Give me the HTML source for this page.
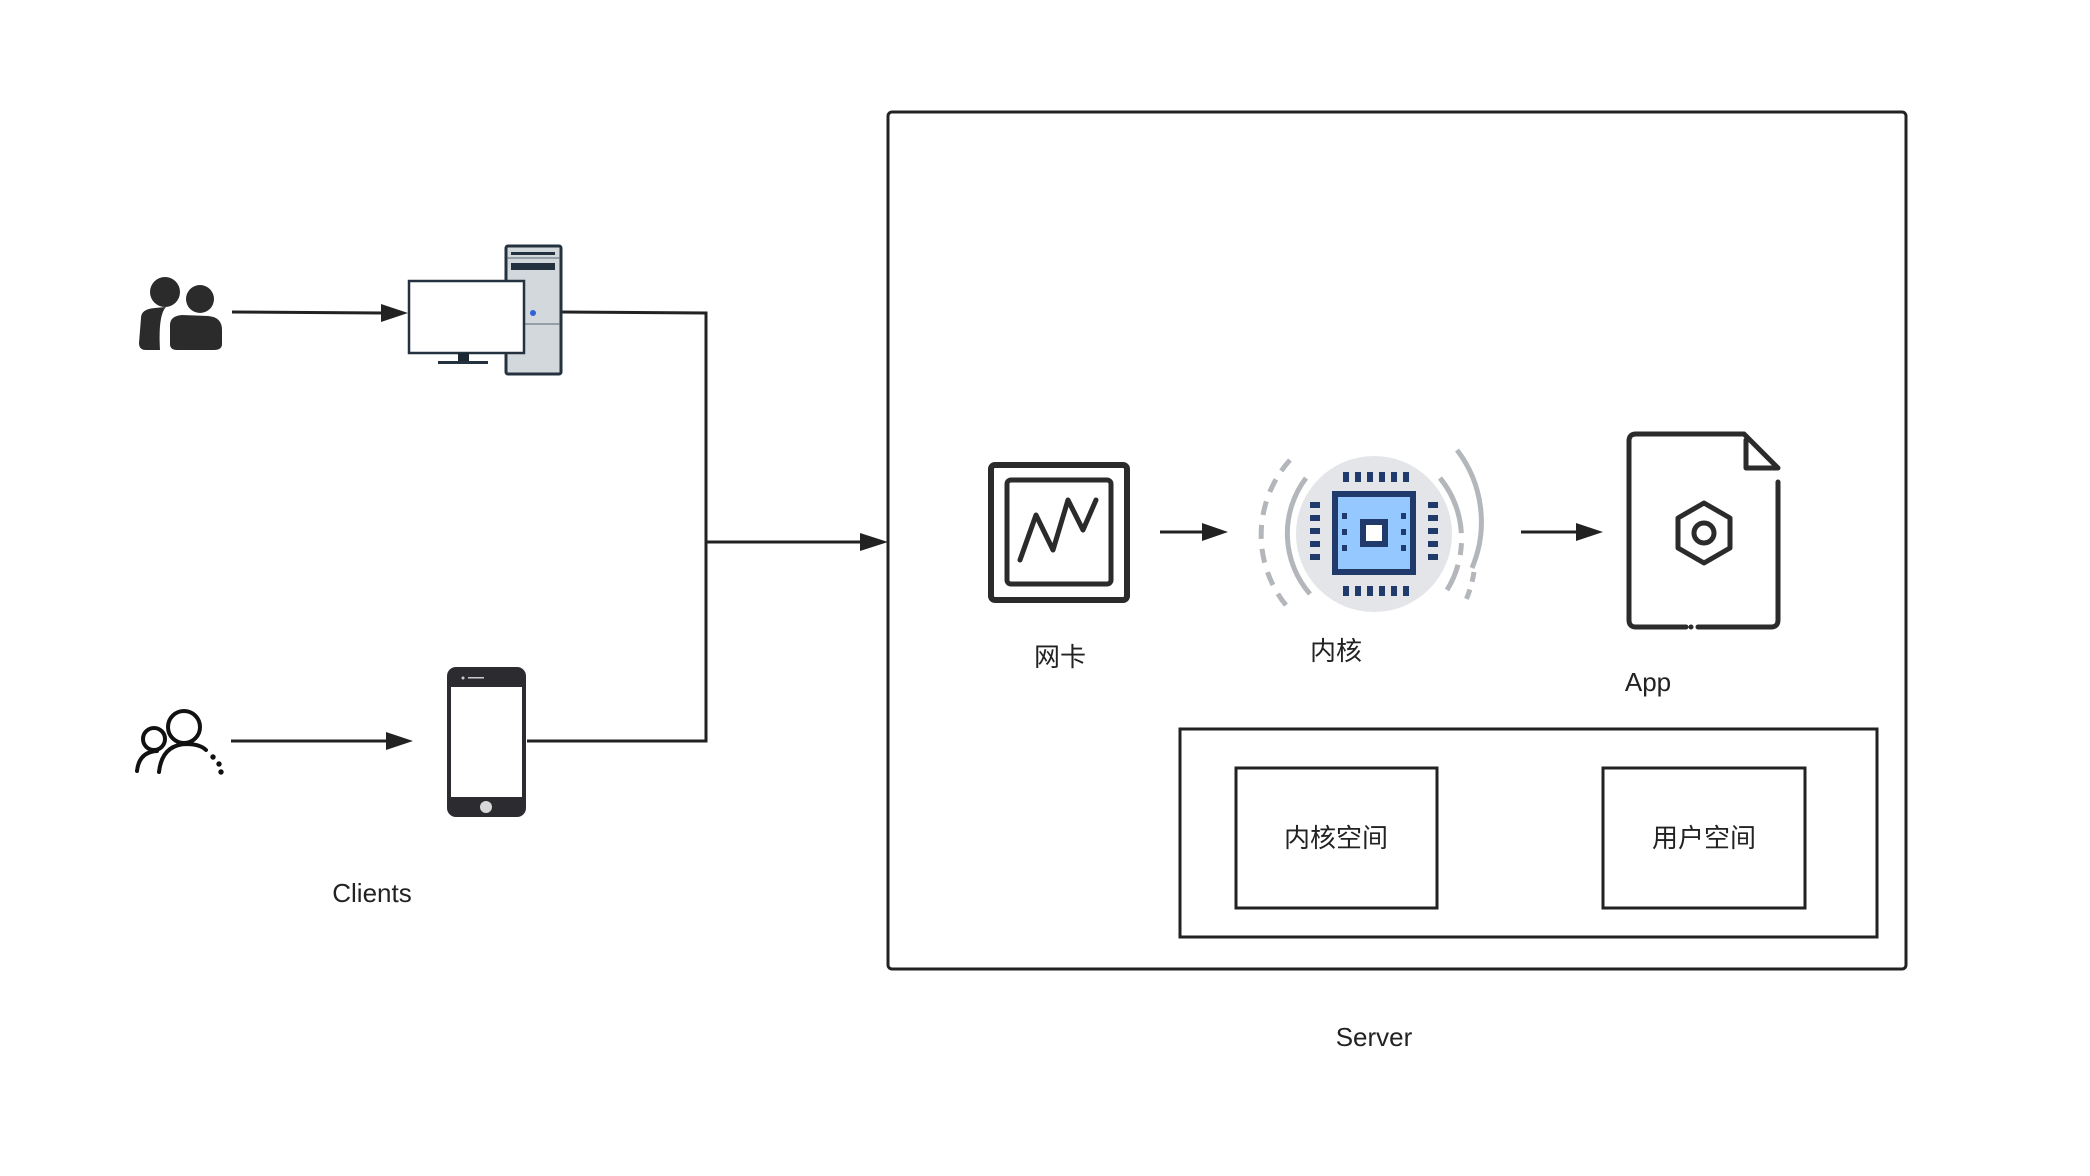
<!DOCTYPE html>
<html><head><meta charset="utf-8"><style>
html,body{margin:0;padding:0;background:#fff;}
svg{display:block;}
text{font-family:"Liberation Sans","Noto Sans CJK SC",sans-serif;fill:#222;}
</style></head><body>
<svg width="2090" height="1176" viewBox="0 0 2090 1176" xmlns="http://www.w3.org/2000/svg">
<g stroke="#222" stroke-width="3" fill="none">
<rect x="888" y="112" width="1018" height="857" rx="4"/>
<rect x="1180" y="729" width="697" height="208"/>
<rect x="1236" y="768" width="201" height="140"/>
<rect x="1603" y="768" width="202" height="140"/>
<line x1="232" y1="312" x2="385" y2="313"/>
<line x1="231" y1="741" x2="388" y2="741"/>
<polyline points="561,312 706,313 706,741 527,741"/>
<line x1="706" y1="542" x2="862" y2="542"/>
<line x1="1160" y1="532" x2="1204" y2="532"/>
<line x1="1521" y1="532" x2="1578" y2="532"/>
</g>
<g fill="#222">
<polygon points="408,313 381,304 381,322"/>
<polygon points="413,741 386,732 386,750"/>
<polygon points="888,542 860,533 860,551"/>
<polygon points="1228,532 1202,523 1202,541"/>
<polygon points="1603,532 1576,523 1576,541"/>
</g>
<g fill="#2b2b2b">
<circle cx="165" cy="292" r="15"/>
<circle cx="200" cy="299" r="14"/>
<path d="M141,318 Q141,309 155,308 L166,307 Q158,315 160,350 L146,350 Q139,350 139,343 Z"/>
<path d="M170,325 Q170,316 182,315 L208,316 Q222,317 222,330 L222,344 Q222,350 214,350 L177,350 Q170,350 170,344 Z"/>
</g>
<g stroke="#111" stroke-width="4" fill="none" stroke-linecap="round">
<circle cx="154" cy="739" r="11"/>
<circle cx="184" cy="727" r="16"/>
<path d="M137,771 Q139,752 157,751"/>
<path d="M159,772 Q162,745 186,744 Q200,744 206,750"/>
</g>
<g fill="#111"><circle cx="213" cy="757" r="2.7"/><circle cx="219" cy="764" r="2.7"/><circle cx="221" cy="772" r="2.7"/></g>
<rect x="506" y="246" width="55" height="128" rx="2" fill="#d3d8dc" stroke="#243240" stroke-width="3"/>
<rect x="511" y="252" width="44" height="3" fill="#243240"/>
<rect x="511" y="263" width="44" height="7" fill="#243240"/>
<line x1="507" y1="258" x2="560" y2="258" stroke="#5a6670" stroke-width="1"/>
<line x1="507" y1="324" x2="560" y2="324" stroke="#5a6670" stroke-width="1"/>
<circle cx="533" cy="313" r="3" fill="#2f62d6"/>
<rect x="409" y="281" width="115" height="72" fill="#fff" stroke="#243240" stroke-width="2.5"/>
<rect x="458" y="353" width="11" height="9" fill="#1b2733"/>
<rect x="438" y="361" width="50" height="3" fill="#243240"/>
<rect x="447" y="667" width="79" height="150" rx="9" fill="#2b2b30"/>
<rect x="451" y="687" width="71" height="110" fill="#fff"/>
<rect x="468" y="677" width="16" height="1.5" fill="#ccc"/>
<circle cx="463" cy="678" r="1.5" fill="#ccc"/>
<circle cx="486" cy="807" r="6" fill="#d8d8d8"/>
<rect x="991" y="465" width="136" height="135" rx="4" fill="none" stroke="#2b2b2b" stroke-width="6"/>
<rect x="1007" y="480" width="104" height="104" rx="4" fill="none" stroke="#2b2b2b" stroke-width="5"/>
<polyline points="1020,560 1036,515 1053,550 1068,500 1083,530 1096,500" fill="none" stroke="#2b2b2b" stroke-width="5" stroke-linecap="round" stroke-linejoin="round"/>
<circle cx="1374" cy="534" r="78" fill="#e3e5e8"/>
<g fill="none" stroke="#b3b6ba" stroke-width="5">
<path d="M1290,460 A112,112 0 0 0 1290,610" stroke-dasharray="14,10"/>
<path d="M1306,478 A92,92 0 0 0 1310,594"/>
<path d="M1457,450 A118,118 0 0 1 1472,568"/>
<path d="M1440,478 A97,97 0 0 1 1447,590" stroke-dasharray="60,10,12,10"/>
<path d="M1474,572 A118,118 0 0 1 1466,600" stroke-dasharray="10,8"/>
</g>
<rect x="1332" y="491" width="84" height="84" fill="#1f3a6b"/>
<rect x="1338" y="497" width="72" height="72" fill="#94c8ff"/>
<rect x="1360" y="519" width="28" height="28" fill="#1f3a6b"/>
<rect x="1366" y="525" width="16" height="16" fill="#fff"/>
<g fill="#1f3a6b">
<rect x="1343" y="472" width="6" height="10"/><rect x="1355" y="472" width="6" height="10"/><rect x="1367" y="472" width="6" height="10"/><rect x="1379" y="472" width="6" height="10"/><rect x="1391" y="472" width="6" height="10"/><rect x="1403" y="472" width="6" height="10"/>
<rect x="1343" y="586" width="6" height="10"/><rect x="1355" y="586" width="6" height="10"/><rect x="1367" y="586" width="6" height="10"/><rect x="1379" y="586" width="6" height="10"/><rect x="1391" y="586" width="6" height="10"/><rect x="1403" y="586" width="6" height="10"/>
<rect x="1310" y="502" width="10" height="6"/><rect x="1310" y="515" width="10" height="6"/><rect x="1310" y="528" width="10" height="6"/><rect x="1310" y="541" width="10" height="6"/><rect x="1310" y="554" width="10" height="6"/>
<rect x="1428" y="502" width="10" height="6"/><rect x="1428" y="515" width="10" height="6"/><rect x="1428" y="528" width="10" height="6"/><rect x="1428" y="541" width="10" height="6"/><rect x="1428" y="554" width="10" height="6"/>
<rect x="1342" y="513" width="5" height="6"/><rect x="1342" y="529" width="5" height="6"/><rect x="1342" y="545" width="5" height="6"/>
<rect x="1401" y="513" width="5" height="6"/><rect x="1401" y="529" width="5" height="6"/><rect x="1401" y="545" width="5" height="6"/>
</g>
<g fill="none" stroke="#2b2b2b" stroke-width="5" stroke-linecap="round" stroke-linejoin="round">
<path d="M1686,627 L1636,627 Q1629,627 1629,620 L1629,441 Q1629,434 1636,434 L1744,434 L1778,468 L1746,468 L1746,440"/>
<path d="M1778,482 L1778,620 Q1778,627 1771,627 L1698,627"/>
<polygon points="1704,503 1730,518 1730,548 1704,563 1678,548 1678,518"/>
<circle cx="1704" cy="533" r="10"/>
</g>
<circle cx="1691" cy="627" r="2.5" fill="#2b2b2b"/>
<g font-size="26" text-anchor="middle">
<text x="1060" y="666">网卡</text>
<text x="1336" y="660">内核</text>
<text x="1648" y="691">App</text>
<text x="1336" y="847">内核空间</text>
<text x="1704" y="847">用户空间</text>
<text x="1374" y="1046">Server</text>
<text x="372" y="902">Clients</text>
</g>
</svg>
</body></html>
